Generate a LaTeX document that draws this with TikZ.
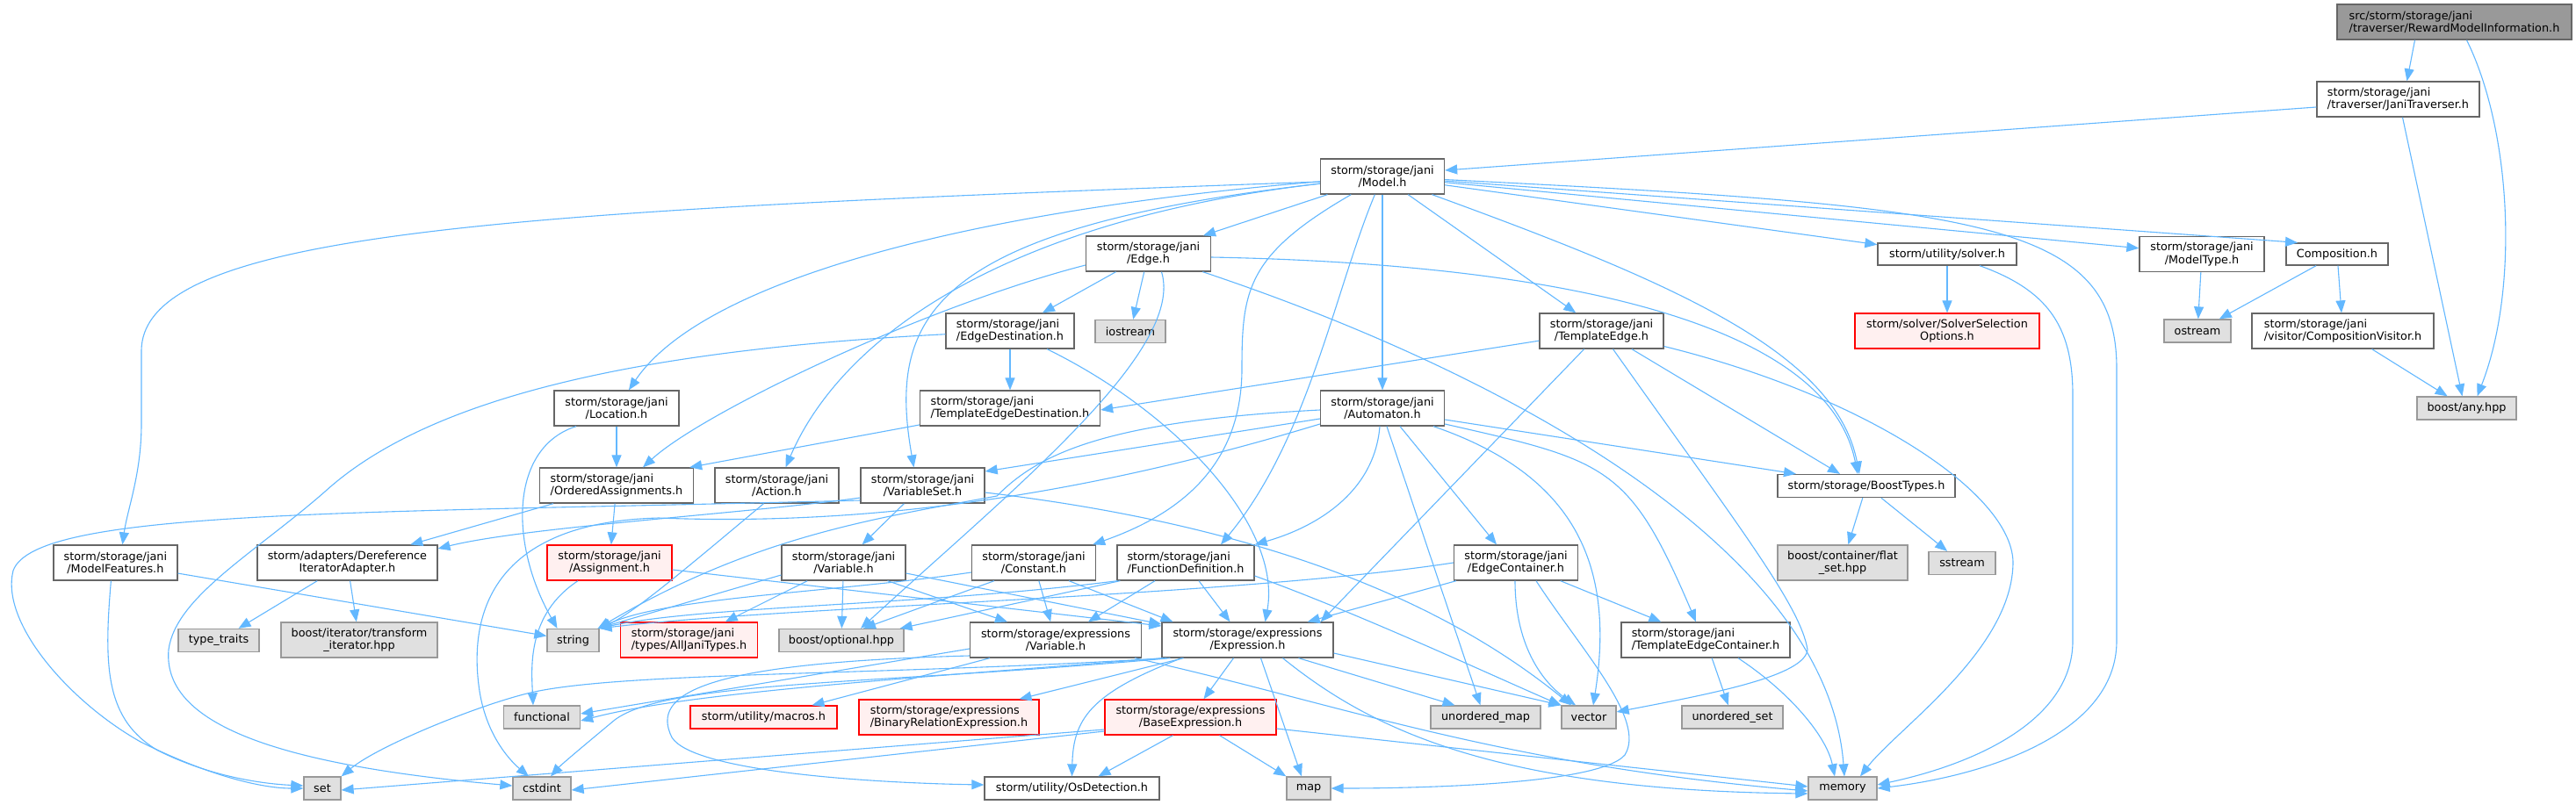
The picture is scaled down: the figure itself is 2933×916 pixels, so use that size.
\documentclass[tikz,border=0pt]{standalone}
\usepackage{fontspec}
\newfontfamily\dvs{DejaVu Sans}
\usetikzlibrary{arrows.meta}
\definecolor{edgec}{HTML}{63B8FF}
\definecolor{bordN}{HTML}{666666}
\definecolor{bordE}{HTML}{999999}
\definecolor{fillE}{HTML}{E0E0E0}
\definecolor{fillR}{HTML}{FFF0F0}
\definecolor{rootF}{HTML}{999999}
\begin{document}
\begin{tikzpicture}[x=1pt,y=-1pt,
  base/.style={line width=1.3pt, inner sep=0pt, align=center, font={\dvs\fontsize{12.8pt}{14.5pt}\selectfont}},
  nd/.style={base, draw=bordN, fill=white},
  ext/.style={base, draw=bordE, fill=fillE},
  redbox/.style={base, draw=red, fill=fillR},
  rootbox/.style={base, draw=bordN, fill=rootF},
  sz/.style 2 args={minimum width=#1pt, minimum height=#2pt},
  dep/.style={draw=edgec, line width=1.1pt, -{Triangle[length=14pt,width=11pt]}}]
\useasboundingbox (0,0) rectangle (2933,916);
\fill[white] (0,0) rectangle (2933,916);

% ---------- nodes ----------
\node[rootbox, sz={267}{40}, align=left] (root) at (2794.5,25) {src/storm/storage/jani\\/traverser/RewardModelInformation.h};
\node[nd, sz={185}{40}, align=left] (jt) at (2730.5,113) {storm/storage/jani\\/traverser/JaniTraverser.h};
\node[nd, sz={141}{40}] (model) at (1574,201) {storm/storage/jani\\/Model.h};
\node[nd, sz={142}{40}] (edge) at (1307.5,289) {storm/storage/jani\\/Edge.h};
\node[nd, sz={158}{25}] (solver) at (2217,289.5) {storm/utility/solver.h};
\node[nd, sz={142}{40}] (modeltype) at (2507,289.5) {storm/storage/jani\\/ModelType.h};
\node[nd, sz={116}{25}] (composition) at (2661,289.5) {Composition.h};
\node[redbox, sz={210}{40}] (solversel) at (2217,377) {storm/solver/SolverSelection\\Options.h};
\node[ext, sz={76}{26}] (ostream) at (2502,377) {ostream};
\node[nd, sz={207}{40}, align=left] (compvisitor) at (2667.5,377) {storm/storage/jani\\/visitor/CompositionVisitor.h};
\node[ext, sz={113}{26}] (anyhpp) at (2808.5,465) {boost/any.hpp};
\node[nd, sz={146}{40}, align=left] (edgedest) at (1150,377) {storm/storage/jani\\/EdgeDestination.h};
\node[ext, sz={80}{26}] (iostream) at (1287,377.5) {iostream};
\node[nd, sz={141}{40}] (templateedge) at (1823.5,377) {storm/storage/jani\\/TemplateEdge.h};
\node[nd, sz={142}{40}] (location) at (702,465) {storm/storage/jani\\/Location.h};
\node[nd, sz={205}{40}, align=left] (ted) at (1150,465) {storm/storage/jani\\/TemplateEdgeDestination.h};
\node[nd, sz={141}{40}] (automaton) at (1574,465) {storm/storage/jani\\/Automaton.h};
\node[nd, sz={175}{40}, align=left] (oa) at (702,553) {storm/storage/jani\\/OrderedAssignments.h};
\node[nd, sz={141}{40}] (action) at (884.5,553) {storm/storage/jani\\/Action.h};
\node[nd, sz={141}{40}] (variableset) at (1050.5,553) {storm/storage/jani\\/VariableSet.h};
\node[nd, sz={202}{26}] (boosttypes) at (2125,553.5) {storm/storage/BoostTypes.h};
\node[nd, sz={141}{40}] (modelfeatures) at (131.4,641) {storm/storage/jani\\/ModelFeatures.h};
\node[nd, sz={205}{40}] (dia) at (395.4,641) {storm/adapters/Dereference\\IteratorAdapter.h};
\node[redbox, sz={142}{40}] (assignment) at (694,641) {storm/storage/jani\\/Assignment.h};
\node[nd, sz={141}{40}] (janivariable) at (960.5,641) {storm/storage/jani\\/Variable.h};
\node[nd, sz={141}{40}] (constant) at (1177,641) {storm/storage/jani\\/Constant.h};
\node[nd, sz={156}{40}, align=left] (fd) at (1350,641) {storm/storage/jani\\/FunctionDefinition.h};
\node[nd, sz={141}{40}] (edgecontainer) at (1726,641) {storm/storage/jani\\/EdgeContainer.h};
\node[ext, sz={148}{40}] (flatset) at (2098,641) {boost/container/flat\\\_set.hpp};
\node[ext, sz={76}{26}] (sstream) at (2234,641.5) {sstream};
\node[ext, sz={92}{26}] (typetraits) at (249,729.5) {type\_traits};
\node[ext, sz={178}{40}] (transformit) at (409,729) {boost/iterator/transform\\\_iterator.hpp};
\node[ext, sz={59}{26}] (string) at (652.5,729.5) {string};
\node[redbox, sz={156}{40}, align=left] (alljani) at (784.5,729) {storm/storage/jani\\/types/AllJaniTypes.h};
\node[ext, sz={142}{26}] (boostopt) at (958,729.5) {boost/optional.hpp};
\node[nd, sz={195}{40}] (expvariable) at (1202,729) {storm/storage/expressions\\/Variable.h};
\node[nd, sz={195}{40}] (expression) at (1420.5,729) {storm/storage/expressions\\/Expression.h};
\node[nd, sz={192}{40}, align=left] (tec) at (1942,729) {storm/storage/jani\\/TemplateEdgeContainer.h};
\node[ext, sz={87}{26}] (functional) at (617,817) {functional};
\node[redbox, sz={167}{26}] (macros) at (869.5,817) {storm/utility/macros.h};
\node[redbox, sz={205}{40}, align=left] (binrel) at (1080.5,817) {storm/storage/expressions\\/BinaryRelationExpression.h};
\node[redbox, sz={195}{40}] (baseexpr) at (1355.5,817) {storm/storage/expressions\\/BaseExpression.h};
\node[ext, sz={125}{26}] (umap) at (1691.5,817) {unordered\_map};
\node[ext, sz={62}{26}] (vector) at (1809,817) {vector};
\node[ext, sz={115}{26}] (uset) at (1972.5,817) {unordered\_set};
\node[ext, sz={42}{26}] (set) at (367,898) {set};
\node[ext, sz={66}{26}] (cstdint) at (617,898) {cstdint};
\node[nd, sz={199}{26}] (osdetection) at (1220.5,898) {storm/utility/OsDetection.h};
\node[ext, sz={50}{26}] (map) at (1490,898) {map};
\node[ext, sz={78}{26}] (memory) at (2098,898) {memory};

% ---------- edges ----------
% root, traverser
\draw[dep] ([xshift=-45pt]root.south) -- ([xshift=10pt]jt.north);
\draw[dep] ([xshift=14pt]root.south) .. controls (2860,150) and (2868,330) .. ([xshift=12pt]anyhpp.north);
\draw[dep] ([yshift=-9pt]jt.west) -- ([yshift=7pt]model.east);
\draw[dep] ([xshift=5pt]jt.south) -- ([xshift=-5pt]anyhpp.north);
% Model.h
\draw[dep] ([yshift=-6pt]model.west) .. controls (600,240) and (161,260) .. (161,400) -- (161,483) .. controls (161,540) and (145,580) .. ([xshift=8pt]modelfeatures.north);
\draw[dep] (model) .. controls (1100,240) and (800,320) .. (location);
\draw[dep] (model) -- (edge);
\draw[dep] (model) .. controls (1150,250) and (960,380) .. ([xshift=10pt]action.north);
\draw[dep] (model) .. controls (1060,260) and (1010,360) .. ([xshift=-10pt]variableset.north);
\draw[dep] (model) .. controls (1420,290) and (1414,330) .. (1414,420) .. controls (1414,540) and (1330,590) .. ([xshift=-4pt]constant.north east);
\draw[dep] (model) .. controls (1520,330) and (1490,500) .. ([xshift=40pt]fd.north);
\draw[dep] (model) -- (automaton);
\draw[dep] (model) -- (templateedge);
\draw[dep] (model) .. controls (1900,320) and (2090,400) .. ([xshift=-8pt]boosttypes.north);
\draw[dep] (model) -- (solver);
\draw[dep] (model) -- (modeltype);
\draw[dep] (model) -- ([xshift=-45pt]composition.north);
\draw[dep] (model) .. controls (2250,235) and (2410,250) .. (2410,420) -- (2410,730) .. controls (2410,840) and (2250,885) .. (memory.east);
% solver, composition
\draw[dep] (solver) -- (solversel);
\draw[dep] ([xshift=37pt]solver.south) .. controls (2330,330) and (2360,370) .. (2360,450) -- (2360,730) .. controls (2360,820) and (2250,870) .. ([yshift=4pt]memory.east);
\draw[dep] (modeltype) -- (ostream);
\draw[dep] (composition) -- (ostream);
\draw[dep] (composition) -- (compvisitor);
\draw[dep] (compvisitor) -- (anyhpp);
% Edge.h
\draw[dep] (edge) -- (edgedest);
\draw[dep] (edge) -- (iostream);
\draw[dep] ([yshift=-13pt]edge.west) .. controls (1050,350) and (800,470) .. ([xshift=30pt]oa.north);
\draw[dep] ([xshift=15pt]edge.south) .. controls (1350,400) and (1150,560) .. ([xshift=22pt]boostopt.north);
\draw[dep] ([yshift=-4pt]edge.east) .. controls (1750,300) and (2080,360) .. ([xshift=-10pt]boosttypes.north);
\draw[dep] (edge) .. controls (1700,420) and (2080,620) .. ([xshift=2pt]memory.north);
% EdgeDestination.h
\draw[dep] (edgedest) -- (ted);
\draw[dep] (edgedest) .. controls (700,400) and (480,460) .. (370,560) .. controls (290,630) and (200,680) .. (192,740) .. controls (185,820) and (300,870) .. (cstdint);
\draw[dep] (edgedest) .. controls (1340,470) and (1460,600) .. ([xshift=20pt]expression.north);
% TemplateEdgeDestination.h, TemplateEdge.h
\draw[dep] (ted) -- ([xshift=-5pt]oa.north east);
\draw[dep] (templateedge) -- ([yshift=-2pt]ted.east);
\draw[dep] (templateedge) -- ([xshift=-15pt]expression.north east);
\draw[dep] ([xshift=13pt]templateedge.south) .. controls (1980,600) and (2050,690) .. (2058,740) .. controls (2055,770) and (1950,790) .. (vector);
\draw[dep] (templateedge) -- ([xshift=-30pt]boosttypes.north);
\draw[dep] (templateedge) .. controls (2120,450) and (2290,560) .. (2292,640) .. controls (2292,740) and (2160,830) .. ([xshift=20pt]memory.north);
% Location.h
\draw[dep] (location) -- (oa);
\draw[dep] ([xshift=-46pt]location.south) .. controls (580,510) and (580,620) .. ([xshift=-18pt]string.north);
% Automaton.h
\draw[dep] ([yshift=-12pt]automaton.west) -- ([yshift=16pt]variableset.east);
\draw[dep] ([yshift=-2pt]automaton.west) .. controls (1250,480) and (1180,520) .. (1135,565) .. controls (1000,590) and (860,610) .. ([xshift=-2pt]string.north east);
\draw[dep] ([yshift=-18pt]automaton.west) .. controls (1250,560) and (1000,600) .. (750,590) .. controls (560,595) and (535,700) .. (545,780) .. controls (552,840) and (585,870) .. ([xshift=-15pt]cstdint.north);
\draw[dep] ([xshift=-3pt]automaton.south) .. controls (1565,560) and (1500,600) .. (fd.north east);
\draw[dep] ([xshift=5pt]automaton.south) -- ([xshift=-6pt]umap.north);
\draw[dep] ([xshift=20pt]automaton.south) -- ([xshift=-22pt]edgecontainer.north);
\draw[dep] ([xshift=58pt]automaton.south) .. controls (1790,540) and (1840,640) .. ([xshift=5pt]vector.north);
\draw[dep] ([yshift=-13pt]automaton.east) -- ([xshift=-80pt]boosttypes.north);
\draw[dep] ([yshift=-18pt]automaton.east) .. controls (1830,525) and (1855,530) .. ([xshift=-11pt]tec.north);
% OrderedAssignments.h, Action.h
\draw[dep] (oa) -- (dia);
\draw[dep] (oa) -- (assignment);
\draw[dep] ([xshift=-15pt]action.south) .. controls (790,640) and (720,700) .. ([xshift=-2pt]string.north east);
% VariableSet.h
\draw[dep] (variableset) -- (janivariable);
\draw[dep] ([yshift=-14pt]variableset.west) .. controls (850,585) and (600,600) .. ([yshift=16pt]dia.east);
\draw[dep] ([yshift=-17pt]variableset.west) .. controls (400,585) and (40,580) .. (15,650) .. controls (0,710) and (80,800) .. (160,845) .. controls (240,885) and (300,898) .. (set.west);
\draw[dep] ([yshift=-8pt]variableset.east) .. controls (1450,600) and (1650,690) .. ([xshift=-20pt]vector.north);
% ModelFeatures.h, DereferenceIteratorAdapter.h
\draw[dep] (modelfeatures) -- (string);
\draw[dep] ([xshift=-5pt]modelfeatures.south) .. controls (118,760) and (120,820) .. (180,855) .. controls (240,885) and (300,893) .. ([yshift=3pt]set.west);
\draw[dep] (dia) -- (typetraits);
\draw[dep] (dia) -- (transformit);
% Assignment.h
\draw[dep] ([xshift=-36pt]assignment.south) .. controls (600,700) and (605,760) .. ([xshift=-10pt]functional.north);
\draw[dep] ([yshift=-8pt]assignment.east) -- ([yshift=16pt]expression.west);
% jani Variable.h
\draw[dep] (janivariable) -- (alljani);
\draw[dep] (janivariable) -- (boostopt);
\draw[dep] ([yshift=-14pt]janivariable.west) -- ([xshift=-2pt]string.north east);
\draw[dep] ([xshift=50pt]janivariable.south) -- ([xshift=-55pt]expvariable.north);
\draw[dep] ([yshift=-12pt]janivariable.east) -- ([yshift=18pt]expression.west);
% Constant.h
\draw[dep] ([yshift=-11pt]constant.west) .. controls (950,675) and (760,680) .. ([xshift=-1pt]string.north east);
\draw[dep] ([xshift=-45pt]constant.south) -- ([xshift=25pt]boostopt.north);
\draw[dep] (constant) -- (expvariable);
\draw[dep] ([xshift=40pt]constant.south) -- ([xshift=-85pt]expression.north);
% FunctionDefinition.h
\draw[dep] ([xshift=1pt]fd.south west) .. controls (1050,690) and (800,690) .. ([xshift=-1pt]string.north east);
\draw[dep] ([xshift=4pt]fd.south west) -- ([xshift=-5pt]boostopt.north east);
\draw[dep] ([xshift=-35pt]fd.south) -- ([xshift=37pt]expvariable.north);
\draw[dep] ([xshift=15pt]fd.south) -- ([xshift=-20pt]expression.north);
\draw[dep] ([yshift=-15pt]fd.east) .. controls (1550,700) and (1700,770) .. (vector.north west);
% EdgeContainer.h
\draw[dep] (edgecontainer.west) .. controls (1400,680) and (900,690) .. (string.north east);
\draw[dep] ([xshift=-68pt]edgecontainer.south) -- ([xshift=-30pt]expression.north east);
\draw[dep] (edgecontainer) -- (tec);
\draw[dep] ([xshift=-1pt]edgecontainer.south) .. controls (1725,740) and (1760,780) .. ([xshift=-15pt]vector.north);
\draw[dep] ([xshift=23pt]edgecontainer.south) .. controls (1800,740) and (1875,820) .. (1850,860) .. controls (1820,895) and (1600,898) .. (map.east);
% TemplateEdgeContainer.h, BoostTypes.h
\draw[dep] (tec) -- (uset);
\draw[dep] ([xshift=37pt]tec.south) .. controls (2040,790) and (2080,840) .. ([xshift=-9pt]memory.north);
\draw[dep] (boosttypes) -- (flatset);
\draw[dep] (boosttypes) -- (sstream);
% expressions/Variable.h
\draw[dep] ([yshift=-10pt]expvariable.west) -- ([yshift=4pt]functional.east);
\draw[dep] ([xshift=-75pt]expvariable.south) -- ([xshift=55pt]macros.north);
\draw[dep] ([yshift=-18pt]expvariable.west) .. controls (800,755) and (740,790) .. (765,840) .. controls (790,880) and (1000,892) .. ([yshift=4pt]osdetection.west);
\draw[dep] ([xshift=90pt]expvariable.south) .. controls (1520,800) and (1700,870) .. ([yshift=-3pt]memory.west);
% Expression.h
\draw[dep] ([xshift=2pt]expression.south west) .. controls (1000,775) and (780,790) .. ([yshift=-4pt]functional.east);
\draw[dep] ([xshift=6pt]expression.south west) .. controls (1000,770) and (700,765) .. (600,790) .. controls (540,805) and (430,850) .. (set.north east);
\draw[dep] ([xshift=10pt]expression.south west) .. controls (1000,780) and (760,775) .. (700,820) .. controls (670,845) and (640,870) .. ([xshift=10pt]cstdint.north);
\draw[dep] ([xshift=-73pt]expression.south) -- ([xshift=80pt]binrel.north);
\draw[dep] ([xshift=-16pt]expression.south) -- ([xshift=15pt]baseexpr.north);
\draw[dep] ([xshift=-75pt]expression.south) .. controls (1240,790) and (1222,820) .. (osdetection.north);
\draw[dep] ([xshift=58pt]expression.south) -- ([xshift=-35pt]umap.north);
\draw[dep] ([yshift=-15pt]expression.east) -- (vector.north west);
\draw[dep] ([xshift=15pt]expression.south) -- ([xshift=-8pt]map.north);
\draw[dep] ([xshift=40pt]expression.south) .. controls (1560,830) and (1700,900) .. ([yshift=-6pt]memory.west);
% BaseExpression.h
\draw[dep] ([yshift=-14pt]baseexpr.west) -- ([yshift=-2pt]set.east);
\draw[dep] ([yshift=-16pt]baseexpr.west) -- ([yshift=-2pt]cstdint.east);
\draw[dep] ([xshift=-20pt]baseexpr.south) -- ([xshift=30pt]osdetection.north);
\draw[dep] ([xshift=33pt]baseexpr.south) -- (map.north west);
\draw[dep] ([yshift=-13pt]baseexpr.east) -- ([yshift=2pt]memory.west);
\end{tikzpicture}
\end{document}
